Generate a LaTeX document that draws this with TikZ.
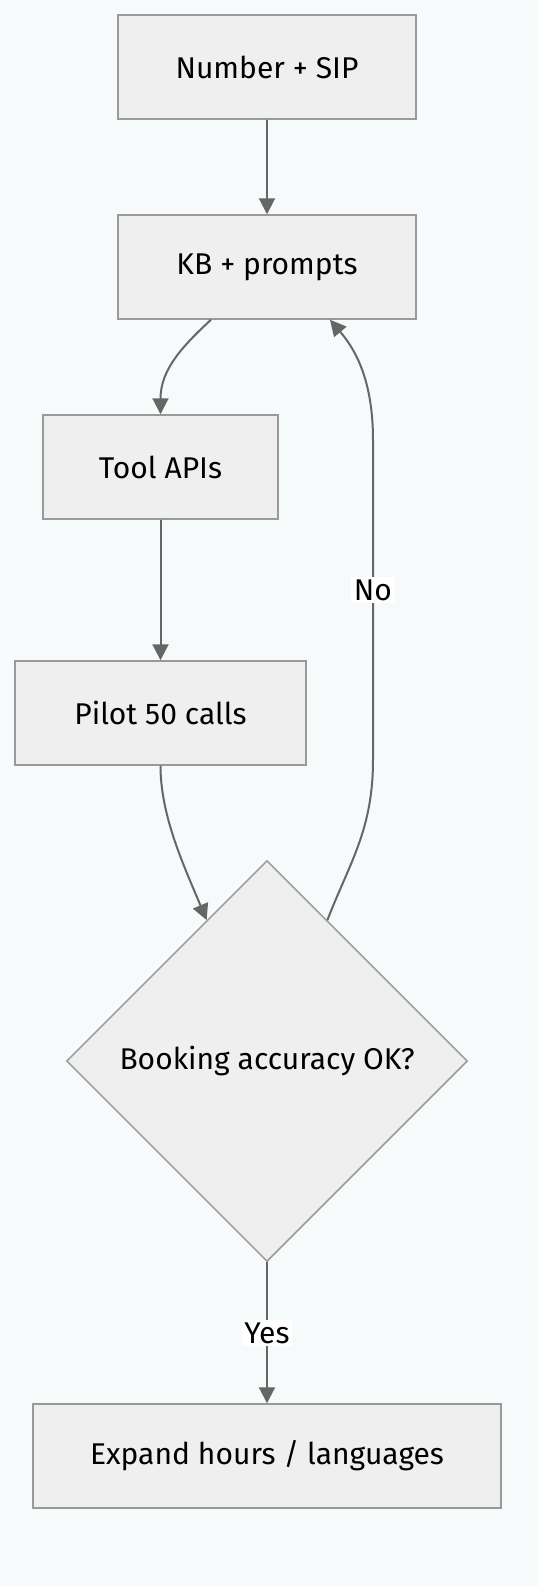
\documentclass[tikz,border=0pt]{standalone}
\usepackage{fontspec}
\setmainfont{Fira Sans}
\usetikzlibrary{shapes.geometric,arrows.meta,calc}
\definecolor{bg}{HTML}{F7FAFB}
\definecolor{boxfill}{HTML}{EFEFEF}
\definecolor{boxline}{HTML}{999999}
\definecolor{edge}{HTML}{666666}
\tikzset{
  px/.style={x=0.75pt,y=-0.75pt},
  stepbox/.style={draw=boxline,fill=boxfill,line width=1.1pt,rectangle,minimum height=78pt,inner sep=0pt,font=\fontsize{22.5}{27}\selectfont},
  decision/.style={draw=boxline,fill=boxfill,line width=1.1pt,diamond,aspect=1,minimum width=300.75pt,minimum height=300.75pt,inner sep=0pt,font=\fontsize{22.5}{27}\selectfont},
  conn/.style={draw=edge,line width=1.5pt,-{Triangle[length=12pt,width=12pt]}},
  elabel/.style={fill=white,inner sep=2pt,font=\fontsize{22.5}{27}\selectfont}
}
\begin{document}
\begin{tikzpicture}[px]
\fill[bg] (0,0) rectangle (538,1586);
\useasboundingbox (0,0) rectangle (538,1586);
\node[stepbox,minimum width=223.5pt] (b1) at (267,67) {Number + SIP};
\node[stepbox,minimum width=223.5pt] (b2) at (267,267) {KB + prompts};
\node[stepbox,minimum width=176.25pt] (b3) at (160.5,467) {Tool APIs};
\node[stepbox,minimum width=218.25pt] (b4) at (160.5,713) {Pilot 50 calls};
\node[decision] (d) at (267,1061) {Booking accuracy OK?};
\node[stepbox,minimum width=351pt] (b5) at (267,1456) {Expand hours / languages};
\draw[conn] (b1) -- (b2);
\draw[conn] ($(b2.south)+(-56,0)$) .. controls +(-28,26) and +(0,-45) .. (b3.north);
\draw[conn] (b3) -- (b4);
\draw[conn] (b4.south) .. controls +(0,50) and +(-23,-55) .. ($(d.north)!0.3!(d.west)$);
\draw[conn] ($(d.north)!0.3!(d.east)$) .. controls +(22,-57) and +(0,70) .. (373,760) coordinate (n1)
  -- (373,440) coordinate (n2) .. controls +(0,-65) and +(22,26) .. ($(b2.south)+(63,0)$);
\node[elabel] (no) at (373,590) {No};
\draw[conn] (d.south) -- (b5.north);
\node[elabel] (yes) at (267,1333) {Yes};
\end{tikzpicture}
\end{document}
